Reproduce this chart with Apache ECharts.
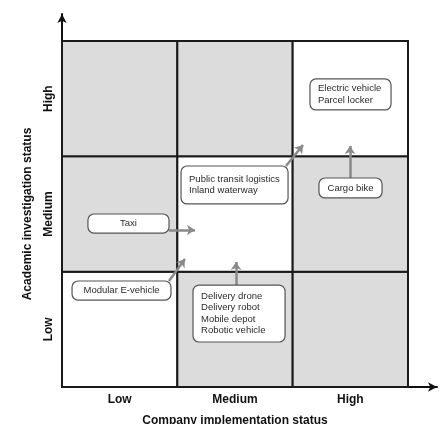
<!DOCTYPE html>
<html>
<head>
<meta charset="utf-8">
<script src="https://cdn.jsdelivr.net/npm/echarts@6/dist/echarts.min.js"></script>
<style>
html,body{margin:0;padding:0;background:#fff;}
#chart{width:446px;height:424px;}
</style>
</head>
<body>
<div id="chart"></div>
<script>
// Category tick labels (both axes)
var levels = ['Low', 'Medium', 'High'];
var xAxisName = 'Company implementation status';
var yAxisName = 'Academic investigation status';

// Cells: [company col, academic row, shaded (1 = grey)]
var cellCol = [0, 1, 2, 0, 1, 2, 0, 1, 2];
var cellRow = [0, 0, 0, 1, 1, 1, 2, 2, 2];
var cellShade = [0, 1, 1, 1, 0, 1, 1, 1, 0];

// Technology boxes, extents in axis (data) units
var boxText = [
  'Electric vehicle\nParcel locker',
  'Public transit logistics\nInland waterway',
  'Cargo bike',
  'Taxi',
  'Modular E-vehicle',
  'Delivery drone\nDelivery robot\nMobile depot\nRobotic vehicle'
];
var boxX0 = [2.150, 1.032, 2.228, 0.225, 0.087, 1.136];
var boxX1 = [2.853, 1.960, 2.775, 0.928, 0.945, 1.934];
var boxY0 = [2.402, 1.587, 1.639, 1.335, 0.754, 0.390];
var boxY1 = [2.671, 1.916, 1.812, 1.500, 0.919, 0.884];

// Transition arrows (from -> to), in axis units
var arrowFromX = [1.942, 2.497, 0.928, 0.928, 1.509];
var arrowFromY = [1.916, 1.812, 1.361, 0.919, 0.884];
var arrowToX   = [2.090, 2.497, 1.153, 1.066, 1.509];
var arrowToY   = [2.098, 2.090, 1.361, 1.110, 1.084];

var FONT = '"Liberation Sans", Arial, Helvetica, sans-serif';

var cellData = cellCol.map(function (c, i) { return [c, cellRow[i], cellShade[i]]; });
var boxData = boxText.map(function (t, i) { return [boxX0[i], boxY0[i], boxX1[i], boxY1[i], i]; });
var arrowData = arrowFromX.map(function (x, i) {
  return { coords: [[x, arrowFromY[i]], [arrowToX[i], arrowToY[i]]] };
});

var chart = echarts.init(document.getElementById('chart'), null, { renderer: 'canvas' });

var labelFmt = function (v) {
  var f = v - Math.floor(v);
  if (Math.abs(f - 0.5) < 1e-6) return levels[Math.floor(v)] || '';
  return '';
};

chart.setOption({
  animation: false,
  backgroundColor: '#ffffff',
  grid: [
    { left: 62, right: 38, top: 41, bottom: 37, outerBoundsMode: 'none', containLabel: false },
    { left: 62, right: 9, top: 14, bottom: 37, outerBoundsMode: 'none', containLabel: false }
  ],
  xAxis: [
    {
      gridIndex: 0, type: 'value', min: 0, max: 3, interval: 0.5,
      axisLine: { show: false }, axisTick: { show: false }, splitLine: { show: false },
      axisLabel: { formatter: labelFmt, margin: 7, color: '#111', fontSize: 12, fontWeight: 'bold', fontFamily: FONT },
      name: xAxisName, nameLocation: 'middle', nameGap: 28,
      nameTextStyle: { color: '#111', fontSize: 12, fontWeight: 'bold', fontFamily: FONT }
    },
    {
      gridIndex: 1, type: 'value', min: 0, max: 1,
      axisLine: { show: true, symbol: ['none', 'arrow'], symbolSize: [7, 9], lineStyle: { color: '#111', width: 2 } },
      axisTick: { show: false }, axisLabel: { show: false }, splitLine: { show: false }
    }
  ],
  yAxis: [
    {
      gridIndex: 0, type: 'value', min: 0, max: 3, interval: 0.5,
      axisLine: { show: false }, axisTick: { show: false }, splitLine: { show: false },
      axisLabel: { formatter: labelFmt, rotate: 90, margin: 7, color: '#111', fontSize: 12, fontWeight: 'bold', fontFamily: FONT },
      name: yAxisName, nameLocation: 'middle', nameGap: 28, nameRotate: 90,
      nameTextStyle: { color: '#111', fontSize: 12, fontWeight: 'bold', fontFamily: FONT }
    },
    {
      gridIndex: 1, type: 'value', min: 0, max: 1,
      axisLine: { show: true, symbol: ['none', 'arrow'], symbolSize: [7, 9], lineStyle: { color: '#111', width: 2 } },
      axisTick: { show: false }, axisLabel: { show: false }, splitLine: { show: false }
    }
  ],
  series: [
    {
      type: 'custom',
      name: 'cells',
      xAxisIndex: 0, yAxisIndex: 0,
      data: cellData,
      z: 1,
      renderItem: function (params, api) {
        var c = api.value(0), r = api.value(1), s = api.value(2);
        var p0 = api.coord([c, r + 1]);
        var p1 = api.coord([c + 1, r]);
        return {
          type: 'rect',
          shape: { x: p0[0], y: p0[1], width: p1[0] - p0[0], height: p1[1] - p0[1] },
          style: { fill: s ? '#dcdcdc' : '#ffffff', stroke: '#1a1a1a', lineWidth: 2 }
        };
      }
    },
    {
      type: 'lines',
      coordinateSystem: 'cartesian2d',
      xAxisIndex: 0, yAxisIndex: 0,
      clip: false,
      z: 3,
      symbol: ['none', 'arrow'],
      symbolSize: [7, 8],
      lineStyle: { color: '#8a8a8a', width: 2.5, opacity: 1 },
      data: arrowData
    },
    {
      type: 'custom',
      name: 'boxes',
      xAxisIndex: 0, yAxisIndex: 0,
      data: boxData,
      z: 4,
      renderItem: function (params, api) {
        var a = api.coord([api.value(0), api.value(3)]);
        var b = api.coord([api.value(2), api.value(1)]);
        var idx = api.value(4);
        var txt = boxText[idx];
        var multi = txt.indexOf('\n') >= 0;
        var w = b[0] - a[0], h = b[1] - a[1];
        return {
          type: 'group',
          children: [
            {
              type: 'rect',
              shape: { x: a[0], y: a[1], width: w, height: h, r: 6 },
              style: { fill: '#ffffff', stroke: '#555555', lineWidth: 1.2 }
            },
            {
              type: 'text',
              style: {
                text: txt,
                x: multi ? a[0] + 8 : a[0] + w / 2,
                y: a[1] + h / 2,
                align: multi ? 'left' : 'center',
                verticalAlign: 'middle',
                fill: '#2a2a2a',
                font: '9.5px ' + FONT,
                lineHeight: 11.5
              }
            }
          ]
        };
      }
    }
  ]
});
</script>
</body>
</html>
